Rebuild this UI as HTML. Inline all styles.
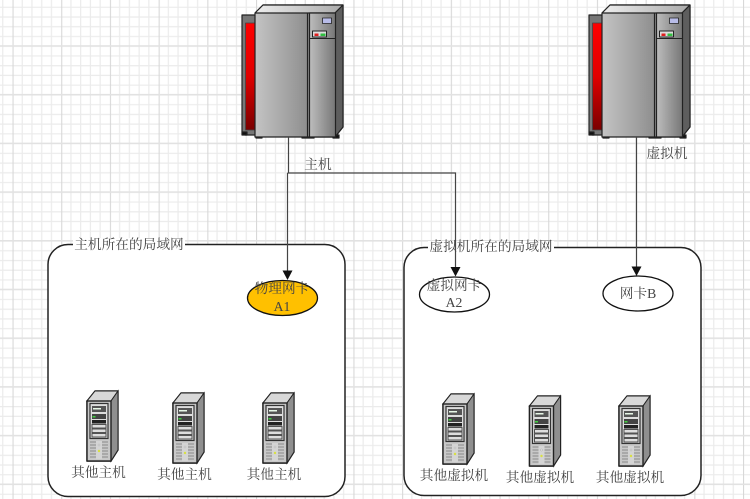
<!DOCTYPE html>
<html><head><meta charset="utf-8"><style>
html,body{margin:0;padding:0;background:#fff}
svg{display:block}
text{font-family:"Liberation Serif","Noto Serif CJK SC",serif;font-size:13.7px;fill:#444;text-anchor:middle}
</style></head><body>
<svg width="750" height="499" viewBox="0 0 750 499" xmlns="http://www.w3.org/2000/svg">
<defs>
<pattern id="g" x="12.5" y="-1.5" width="48.7" height="48.7" patternUnits="userSpaceOnUse">
<g stroke="#ebebeb" stroke-width="1.200" fill="none">
<path d="M9.74 0V48.7M19.48 0V48.7M29.22 0V48.7M38.96 0V48.7"/>
<path d="M0 8.74H48.7M0 18.48H48.7M0 28.22H48.7M0 37.96H48.7"/>
<path stroke="#d8d8d8" d="M.5 0V48.7"/>
<path stroke="#e2e2e2" stroke-width="1.600" d="M0 47.5H48.7"/>
</g>
</pattern>
<linearGradient id="m" x1="0" x2="1" y1="0" y2="0"><stop offset="0" stop-color="#c4c4c4"/><stop offset="1" stop-color="#6a6a6a"/></linearGradient>
<linearGradient id="m2" x1="0" x2="1" y1="0" y2="0"><stop offset="0" stop-color="#bdbdbd"/><stop offset="1" stop-color="#777"/></linearGradient>
<linearGradient id="r" x1="0" x2="0" y1="0" y2="1"><stop offset="0" stop-color="#ff0000"/><stop offset=".5" stop-color="#e00000"/><stop offset="1" stop-color="#7a0000"/></linearGradient>
<linearGradient id="t" x1="0" x2="1" y1="0" y2="0"><stop offset="0" stop-color="#eee"/><stop offset="1" stop-color="#aaa"/></linearGradient>
<g id="big" stroke="#222" stroke-width="1.200" stroke-linejoin="round">
<path d="M0 15H14V135H3L0 132Z" fill="#777"/>
<rect x="3.5" y="23" width="10.5" height="107" fill="url(#r)" stroke="#444" stroke-width=".8"/>
<path d="M0 132h5v3H0zM14 135h6v3h-6zM60 135h6v3h-6zM66 135h6v3h-6zM91 135h6v3h-6z" fill="#111"/>
<path d="M13 13L21 5H101V127L93 137H13Z" fill="url(#m)"/>
<path d="M13 13L21 5H101L93 13Z" fill="url(#t)"/>
<path d="M93 13L101 5V127L93 137Z" fill="#5e5e5e"/>
<rect x="67.500" y="13" width="26" height="124" fill="url(#m2)"/>
<path d="M65.500 13V137" stroke-width="1.200"/>
<rect x="80.500" y="18" width="9" height="5.500" fill="#b8bce8" stroke-width=".8"/>
<rect x="70.500" y="31" width="14" height="6" fill="#ddd" stroke-width="1"/>
<rect x="72.500" y="33.500" width="4" height="2.500" fill="#e02020" stroke="none"/>
<rect x="78.500" y="33.500" width="5" height="2.500" fill="#30c040" stroke="none"/>
<path d="M68 38.500H93" stroke-width=".9"/>
</g>
<g id="sv">
<path d="M2 10L10 0H33V59L26 70H2Z" fill="#999" stroke="#222" stroke-width="1.400" stroke-linejoin="round"/>
<path d="M2 10L10 0H33L26 10Z" fill="#d8d8d8" stroke="#222" stroke-width="1"/>
<path d="M26 10L33 0V59L26 70Z" fill="#8f8f8f" stroke="#222" stroke-width="1"/>
<rect x="2" y="10" width="24" height="60" fill="#c8c8c8" stroke="#222" stroke-width="1.400"/>
<rect x="5" y="12.500" width="18" height="35" fill="#ddd" stroke="#333" stroke-width="1.200"/>
<rect x="7" y="15" width="14" height="6" fill="#555"/>
<rect x="8" y="17" width="8" height="1.500" fill="#e8f8e8"/>
<rect x="7" y="23" width="14" height="5" fill="#444"/>
<rect x="7.500" y="25" width="3" height="1.500" fill="#40d040"/>
<rect x="7" y="29" width="14" height="3.500" fill="#222"/>
<g fill="#ddd" stroke="#444" stroke-width=".9"><rect x="7" y="33.500" width="14" height="3.500"/><rect x="7" y="38" width="14" height="3.500"/><rect x="7" y="42.500" width="14" height="3.500"/></g>
<path d="M5 51H23M5 54H23M5 57H23M5 60H23M5 63H23M5 66H23" stroke="#8a8a8a" stroke-width="1"/>
<rect x="11" y="50" width="6" height="18" fill="#d4d4d4"/>
<circle cx="14" cy="54" r="1" fill="#eee" stroke="#999" stroke-width=".4"/>
<circle cx="14" cy="60" r="1.200" fill="#d8e040"/>
</g>
</defs>
<rect width="750" height="499" fill="#fff"/>
<rect width="750" height="499" fill="url(#g)"/>

<rect x="48" y="244.500" width="297" height="252" rx="20" fill="#fff" stroke="#222" stroke-width="1.500"/>
<rect x="404" y="247.500" width="297" height="248" rx="20" fill="#fff" stroke="#222" stroke-width="1.500"/>
<rect x="73" y="238" width="112" height="13" fill="#fff"/>
<rect x="428" y="241" width="126" height="13" fill="#fff"/>
<text x="129" y="249">主机所在的局域网</text>
<text x="491" y="251">虚拟机所在的局域网</text>

<use href="#big" x="242" y="0"/>
<use href="#big" x="589" y="0"/>

<ellipse cx="282.500" cy="298" rx="35" ry="17.500" fill="#ffc000" stroke="#111" stroke-width="1.300"/>
<ellipse cx="454.500" cy="294.500" rx="35" ry="17.500" fill="#fff" stroke="#111" stroke-width="1.300"/>
<ellipse cx="638" cy="293.500" rx="35" ry="17.500" fill="#fff" stroke="#111" stroke-width="1.300"/>

<g stroke="#444" stroke-width="1.200" fill="none">
<path d="M288.500 137V173"/>
<path d="M287.500 173H455.500V268"/>
<path d="M287.500 173V271"/>
<path d="M636.500 137V267"/>
</g>
<path d="M282.500 270.500H292.500L287.500 280Z M450.500 267H460.500L455.500 276.500Z M631.500 266.500H641.500L636.500 276Z" fill="#111"/>

<text x="282" y="293">物理网卡</text>
<text x="282" y="311">A1</text>
<text x="454" y="290">虚拟网卡</text>
<text x="454" y="307">A2</text>
<text x="638" y="298">网卡B</text>
<text x="318" y="169">主机</text>
<text x="667" y="158">虚拟机</text>

<use href="#sv" x="85" y="391"/>
<use href="#sv" x="171" y="393"/>
<use href="#sv" x="261" y="393"/>
<use href="#sv" x="441" y="394"/>
<use href="#sv" x="527.500" y="396"/>
<use href="#sv" x="617" y="396"/>

<text x="98.500" y="477">其他主机</text>
<text x="184.500" y="479">其他主机</text>
<text x="274" y="479">其他主机</text>
<text x="454" y="480">其他虚拟机</text>
<text x="540" y="482">其他虚拟机</text>
<text x="630" y="482">其他虚拟机</text>
</svg>
</body></html>
